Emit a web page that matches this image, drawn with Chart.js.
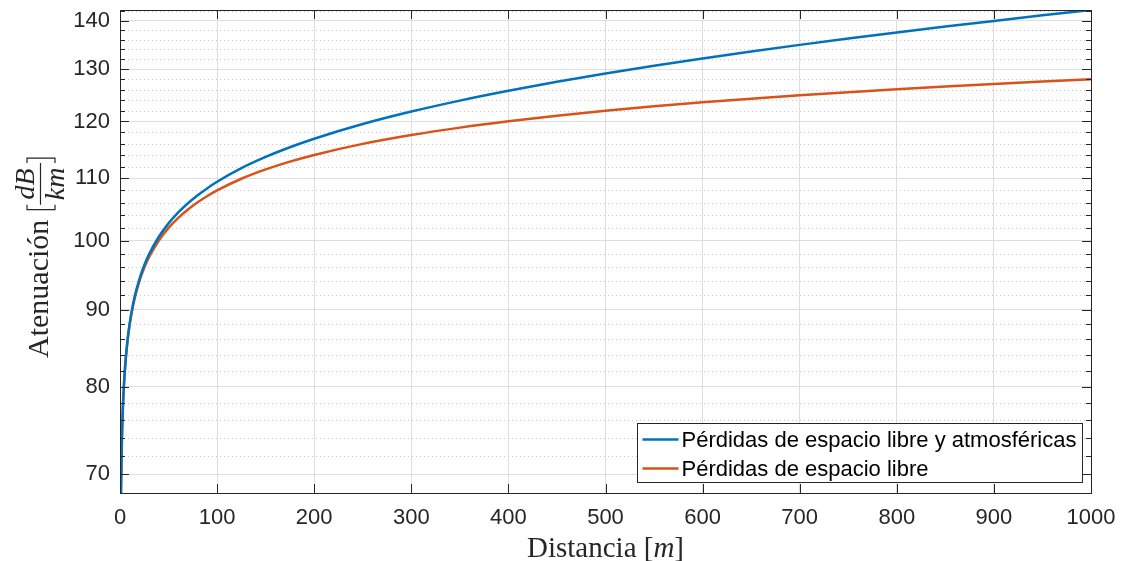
<!DOCTYPE html>
<html>
<head>
<meta charset="utf-8">
<title>Atenuación vs distancia</title>
<script src="https://cdn.jsdelivr.net/npm/chart.js@4.4.0/dist/chart.umd.min.js"></script>
<style>
  html, body { margin: 0; padding: 0; background: #fff; }
  #grafica { display: block; }
</style>
</head>
<body>
<canvas id="grafica" width="1123" height="561"></canvas>
<script>
/* Datos (distancia en m, atenuación en dB) */
const distancias = [1, 2, 3, 4, 5, 6, 8, 10, 12, 15, 20, 25, 30, 40, 50, 60, 70, 80, 90, 100,
  125, 150, 175, 200, 250, 300, 350, 400, 450, 500, 550, 600, 650, 700, 750, 800, 850, 900, 950, 1000];

const perdidasAtmosfericas = [68.01, 74.05, 77.58, 80.10, 82.05, 83.65, 86.18, 88.14, 89.75, 91.74,
  94.31, 96.32, 97.97, 100.61, 102.69, 104.42, 105.90, 107.20, 108.37, 109.43,
  111.73, 113.67, 115.36, 116.88, 119.53, 121.83, 123.89, 125.76, 127.50, 129.13,
  130.67, 132.14, 133.55, 134.91, 136.23, 137.50, 138.74, 139.95, 141.14, 142.30];

const perdidasEspacioLibre = [68.00, 74.02, 77.54, 80.04, 81.98, 83.56, 86.06, 88.00, 89.58, 91.52,
  94.02, 95.96, 97.54, 100.04, 101.98, 103.56, 104.90, 106.06, 107.08, 108.00,
  109.94, 111.52, 112.86, 114.02, 115.96, 117.54, 118.88, 120.04, 121.06, 121.98,
  122.81, 123.56, 124.26, 124.90, 125.50, 126.06, 126.59, 127.08, 127.55, 128.00];

const etiquetasX = [0, 100, 200, 300, 400, 500, 600, 700, 800, 900, 1000];
const etiquetasY = [70, 80, 90, 100, 110, 120, 130, 140];
const divisionesMenoresY = [72, 74, 76, 78, 82, 84, 86, 88, 92, 94, 96, 98, 102, 104, 106, 108,
  112, 114, 116, 118, 122, 124, 126, 128, 132, 134, 136, 138, 142];

const nombresSeries = ['Pérdidas de espacio libre y atmosféricas', 'Pérdidas de espacio libre'];
const coloresSeries = ['#0072BD', '#D95319'];

const COLOR_EJES = '#262626';
const FUENTE_SANS = '"Liberation Sans", Arial, sans-serif';
const FUENTE_SERIF = '"Liberation Serif", "Times New Roman", serif';

/* ---- rejilla menor, caja con marcas hacia dentro, títulos y leyenda ---- */
const estiloMatlab = {
  id: 'estiloMatlab',
  beforeDatasetsDraw(chart) {
    const { ctx, chartArea: a, scales } = chart;
    ctx.save();
    ctx.strokeStyle = '#c9c9c9';
    ctx.lineWidth = 1;
    ctx.setLineDash([1, 3]);
    divisionesMenoresY.forEach(v => {
      const y = Math.round(scales.y.getPixelForValue(v)) + 0.5;
      ctx.beginPath();
      ctx.moveTo(a.left, y);
      ctx.lineTo(a.right, y);
      ctx.stroke();
    });
    ctx.restore();
  },
  afterDraw(chart) {
    const { ctx, chartArea: a, scales } = chart;
    ctx.save();
    ctx.strokeStyle = COLOR_EJES;
    ctx.lineWidth = 1;

    // marcas
    ctx.beginPath();
    etiquetasX.forEach(v => {
      const x = Math.round(scales.x.getPixelForValue(v)) + 0.5;
      ctx.moveTo(x, a.bottom); ctx.lineTo(x, a.bottom - 9);
      ctx.moveTo(x, a.top); ctx.lineTo(x, a.top + 9);
    });
    etiquetasY.forEach(v => {
      const y = Math.round(scales.y.getPixelForValue(v)) + 0.5;
      ctx.moveTo(a.left, y); ctx.lineTo(a.left + 9, y);
      ctx.moveTo(a.right, y); ctx.lineTo(a.right - 9, y);
    });
    divisionesMenoresY.forEach(v => {
      const y = Math.round(scales.y.getPixelForValue(v)) + 0.5;
      ctx.moveTo(a.left, y); ctx.lineTo(a.left + 5, y);
      ctx.moveTo(a.right, y); ctx.lineTo(a.right - 5, y);
    });
    ctx.stroke();

    // caja
    ctx.strokeRect(Math.round(a.left) + 0.5, Math.round(a.top) + 0.5,
      Math.round(a.right - a.left), Math.round(a.bottom - a.top));

    // título eje x: Distancia [m]
    ctx.fillStyle = COLOR_EJES;
    ctx.textBaseline = 'alphabetic';
    ctx.textAlign = 'left';
    const partesX = [
      { t: 'Distancia [', f: '29px ' + FUENTE_SERIF },
      { t: 'm', f: 'italic 29px ' + FUENTE_SERIF },
      { t: ']', f: '29px ' + FUENTE_SERIF }
    ];
    let total = 0;
    partesX.forEach(p => { ctx.font = p.f; p.w = ctx.measureText(p.t).width; total += p.w; });
    let px = (a.left + a.right) / 2 - total / 2;
    partesX.forEach(p => { ctx.font = p.f; ctx.fillText(p.t, px, 557); px += p.w; });

    // título eje y: Atenuación [dB/km]
    ctx.save();
    ctx.translate(48, 358);
    ctx.rotate(-Math.PI / 2);
    ctx.font = '30px ' + FUENTE_SERIF;
    ctx.fillText('Atenuación', 0, 0);
    const u0 = ctx.measureText('Atenuación').width + 10;
    ctx.font = 'italic 28px ' + FUENTE_SERIF;
    const wNum = ctx.measureText('dB').width;
    const wDen = ctx.measureText('km').width;
    const wFrac = Math.max(wNum, wDen) + 9;
    const uFrac = u0 + 5;
    ctx.lineWidth = 1.2;
    ctx.beginPath();
    // corchete izquierdo
    ctx.moveTo(u0 + 5, -21); ctx.lineTo(u0, -21); ctx.lineTo(u0, 7); ctx.lineTo(u0 + 5, 7);
    // raya de fracción
    ctx.moveTo(uFrac, -7.5); ctx.lineTo(uFrac + wFrac, -7.5);
    // corchete derecho
    const u1 = uFrac + wFrac + 5;
    ctx.moveTo(u1 - 5, -21); ctx.lineTo(u1, -21); ctx.lineTo(u1, 7); ctx.lineTo(u1 - 5, 7);
    ctx.stroke();
    ctx.textAlign = 'center';
    ctx.fillText('dB', uFrac + wFrac / 2, -14);
    ctx.fillText('km', uFrac + wFrac / 2, 16);
    ctx.restore();

    // leyenda
    ctx.font = '22px ' + FUENTE_SANS;
    const anchoTexto = Math.max(...chart.data.datasets.map(d => ctx.measureText(d.label).width));
    const anchoCaja = 5 + 36 + 3 + anchoTexto + 6;
    const altoCaja = 59;
    const bx = Math.round(a.right - 9 - anchoCaja) + 0.5;
    const by = Math.round(a.bottom - 11 - altoCaja) + 0.5;
    ctx.fillStyle = '#ffffff';
    ctx.fillRect(bx, by, anchoCaja, altoCaja);
    ctx.strokeStyle = COLOR_EJES;
    ctx.lineWidth = 1;
    ctx.strokeRect(bx, by, anchoCaja, altoCaja);
    ctx.textAlign = 'left';
    ctx.textBaseline = 'middle';
    chart.data.datasets.forEach((d, i) => {
      const yy = by + 16 + i * 29;
      ctx.strokeStyle = d.borderColor;
      ctx.lineWidth = 2.5;
      ctx.beginPath();
      ctx.moveTo(bx + 5, yy); ctx.lineTo(bx + 41, yy);
      ctx.stroke();
      ctx.fillStyle = '#000000';
      ctx.fillText(d.label, bx + 44, yy + 1);
    });
    ctx.restore();
  }
};

function serie(valores) {
  return distancias.map((d, i) => ({ x: d, y: valores[i] }));
}

const ctx = document.getElementById('grafica');

new Chart(ctx, {
  type: 'line',
  data: {
    datasets: [
      {
        label: nombresSeries[0],
        data: serie(perdidasAtmosfericas),
        borderColor: coloresSeries[0],
        borderWidth: 2.5,
        pointRadius: 0,
        cubicInterpolationMode: 'monotone',
        fill: false
      },
      {
        label: nombresSeries[1],
        data: serie(perdidasEspacioLibre),
        borderColor: coloresSeries[1],
        borderWidth: 2.5,
        pointRadius: 0,
        cubicInterpolationMode: 'monotone',
        fill: false
      }
    ]
  },
  options: {
    responsive: false,
    animation: false,
    layout: { padding: { top: 10, right: 32, left: 0, bottom: 0 } },
    plugins: {
      legend: { display: false },
      tooltip: { enabled: false }
    },
    scales: {
      x: {
        type: 'linear',
        min: 0,
        max: 1000,
        afterBuildTicks: s => { s.ticks = etiquetasX.map(v => ({ value: v })); },
        afterFit: s => { s.height = 68; s.paddingLeft = 0; s.paddingRight = 0; },
        grid: { color: '#dedede', lineWidth: 1, drawTicks: false },
        border: { display: false },
        ticks: {
          color: COLOR_EJES,
          font: { family: FUENTE_SANS, size: 22 },
          padding: 12,
          maxRotation: 0,
          autoSkip: false,
          callback: v => String(v)
        }
      },
      y: {
        type: 'logarithmic',
        min: 68,
        max: 142.3,
        afterBuildTicks: s => { s.ticks = etiquetasY.map(v => ({ value: v })); },
        afterFit: s => { s.width = 120; s.paddingTop = 0; s.paddingBottom = 0; },
        grid: { color: '#dedede', lineWidth: 1, drawTicks: false },
        border: { display: false },
        ticks: {
          color: COLOR_EJES,
          font: { family: FUENTE_SANS, size: 22 },
          padding: 10,
          autoSkip: false,
          callback: v => String(v)
        }
      }
    }
  },
  plugins: [estiloMatlab]
});
</script>
</body>
</html>
